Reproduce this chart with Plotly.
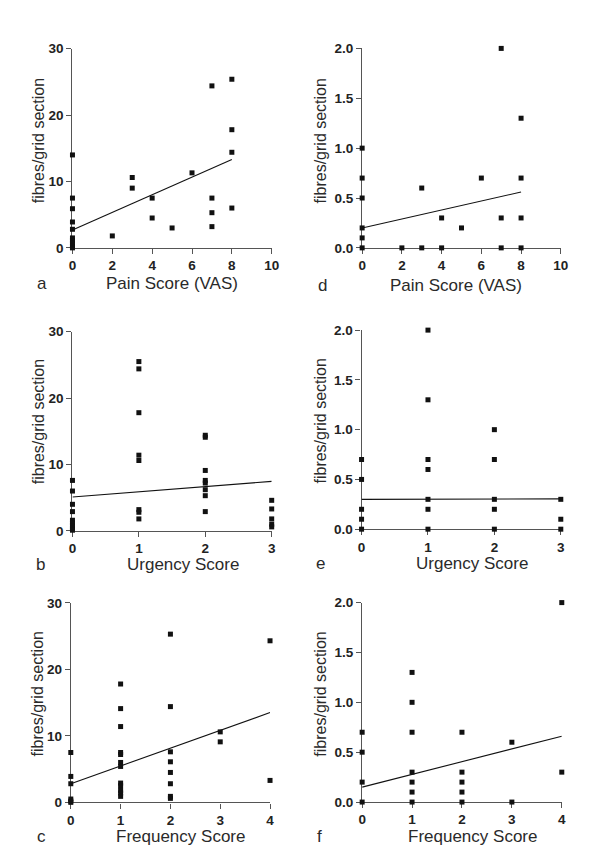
import plotly.graph_objects as go

W, H = 600, 862

# ---------------- data ----------------
# panel a: pain score vs fibres/grid section (scale 0-30)
pain_a_x = [0, 0, 0, 0, 0, 0, 0, 0, 0, 0, 2, 3, 3, 4, 4, 5, 6, 7, 7, 7, 7, 8, 8, 8, 8]
pain_a_y = [14.0, 7.5, 5.9, 3.9, 2.8, 1.5, 1.1, 0.7, 0.3, 0.0, 1.8, 10.6, 9.0, 7.5, 4.5, 3.0, 11.3,
            24.4, 7.5, 5.3, 3.2, 25.4, 17.8, 14.4, 6.0]
fit_a_x = [0, 8]
fit_a_y = [2.7, 13.3]

# panel b: urgency score vs fibres/grid section
urg_b_x = [0] * 9 + [1] * 8 + [2] * 8 + [3] * 5
urg_b_y = [7.6, 6.0, 4.0, 2.9, 1.6, 1.2, 0.8, 0.4, 0.1,
           25.5, 24.4, 17.8, 11.4, 10.6, 3.2, 2.8, 1.8,
           14.4, 14.1, 9.1, 7.6, 7.2, 6.2, 5.3, 2.9,
           4.6, 3.3, 1.8, 1.0, 0.6]
fit_b_x = [0, 3]
fit_b_y = [5.1, 7.45]

# panel c: frequency score vs fibres/grid section
freq_c_x = [0] * 6 + [1] * 12 + [2] * 8 + [3] * 2 + [4] * 2
freq_c_y = [7.5, 3.9, 2.8, 0.5, 0.2, 0.0,
            17.8, 14.1, 11.4, 7.5, 7.2, 6.0, 5.4, 2.9, 2.5, 1.8, 1.4, 0.9,
            25.3, 14.4, 7.6, 6.1, 4.5, 2.8, 0.9, 0.6,
            10.6, 9.1,
            24.3, 3.3]
fit_c_x = [0, 4]
fit_c_y = [2.8, 13.5]

# panel d: pain score vs fibres/grid section (scale 0-2)
pain_d_x = [0, 0, 0, 0, 0, 0, 2, 3, 3, 4, 4, 5, 6, 7, 7, 7, 8, 8, 8, 8]
pain_d_y = [1.0, 0.7, 0.5, 0.2, 0.1, 0.0, 0.0, 0.6, 0.0, 0.3, 0.0, 0.2, 0.7,
            2.0, 0.3, 0.0, 1.3, 0.7, 0.3, 0.0]
fit_d_x = [0, 8]
fit_d_y = [0.20, 0.56]

# panel e: urgency score
urg_e_x = [0] * 5 + [1] * 7 + [2] * 5 + [3] * 3
urg_e_y = [0.7, 0.5, 0.2, 0.1, 0.0,
           2.0, 1.3, 0.7, 0.6, 0.3, 0.2, 0.0,
           1.0, 0.7, 0.3, 0.2, 0.0,
           0.3, 0.1, 0.0]
fit_e_x = [0, 3]
fit_e_y = [0.30, 0.305]

# panel f: frequency score
freq_f_x = [0] * 4 + [1] * 7 + [2] * 5 + [3] * 2 + [4] * 2
freq_f_y = [0.7, 0.5, 0.2, 0.0,
            1.3, 1.0, 0.7, 0.3, 0.2, 0.1, 0.0,
            0.7, 0.3, 0.2, 0.1, 0.0,
            0.6, 0.0,
            2.0, 0.3]
fit_f_x = [0, 4]
fit_f_y = [0.15, 0.66]

# tick values / labels
pain_ticks = [0, 2, 4, 6, 8, 10]
urg_ticks = [0, 1, 2, 3]
freq_ticks = [0, 1, 2, 3, 4]
fib30_ticks = [0, 10, 20, 30]
fib30_labels = ["0", "10", "20", "30"]
fib2_ticks = [0.0, 0.5, 1.0, 1.5, 2.0]
fib2_labels = ["0.0", "0.5", "1.0", "1.5", "2.0"]

y_title = "fibres/grid section"
x_titles = ["Pain Score (VAS)", "Urgency Score", "Frequency Score",
            "Pain Score (VAS)", "Urgency Score", "Frequency Score"]
letters = ["a", "b", "c", "d", "e", "f"]

# ---------------- layout helpers ----------------
def px(x):
    return x / W


def py(y):
    return 1 - y / H


def bold(labels):
    return ["<b>%s</b>" % s for s in labels]


# panel geometry in pixels: (left, right, top, bottom)
panels = [
    (61.7, 265.0, 34.3, 237.0),   # a
    (61.7, 265.0, 322.3, 525.0),  # b
    (60.0, 263.3, 598.3, 801.3),  # c
    (357.3, 560.0, 34.0, 237.0),  # d
    (356.7, 560.0, 320.7, 523.3), # e
    (357.3, 561.0, 598.0, 801.0), # f
]
xtickvals = [pain_ticks, urg_ticks, freq_ticks, pain_ticks, urg_ticks, freq_ticks]
ytickvals = [fib30_ticks] * 3 + [fib2_ticks] * 3
yticktext = [fib30_labels] * 3 + [fib2_labels] * 3

series = [
    (pain_a_x, pain_a_y, fit_a_x, fit_a_y),
    (urg_b_x, urg_b_y, fit_b_x, fit_b_y),
    (freq_c_x, freq_c_y, fit_c_x, fit_c_y),
    (pain_d_x, pain_d_y, fit_d_x, fit_d_y),
    (urg_e_x, urg_e_y, fit_e_x, fit_e_y),
    (freq_f_x, freq_f_y, fit_f_x, fit_f_y),
]

# annotation positions (pixels): x-title center, letter, y-title center
xtitle_pos = [(163, 273), (174, 559), (172, 836), (453, 275), (469, 558), (470, 836)]
letter_pos = [(31, 273), (29, 559), (30, 836), (317, 275), (315, 558), (314, 836)]
ytitle_pos = [(27, 128), (27, 414), (27, 691), (315, 128), (315, 413), (315, 691)]

AXIS_COL = "#555555"
TEXT_COL = "#222222"
FONT = "Liberation Sans, Arial, sans-serif"

fig = go.Figure()
layout = dict(
    width=W, height=H,
    margin=dict(l=0, r=0, t=0, b=0),
    paper_bgcolor="white", plot_bgcolor="white",
    showlegend=False,
    font=dict(family=FONT, color=TEXT_COL),
)
annotations = []

for i, (p, (sx, sy, fx, fy)) in enumerate(zip(panels, series)):
    n = "" if i == 0 else str(i + 1)
    xa, ya = "x" + n, "y" + n
    left, right, top, bottom = p
    xt = xtickvals[i]
    tickfont = dict(size=13.5, color=TEXT_COL, family=FONT, weight="bold")
    layout["xaxis" + n] = dict(
        domain=[px(left), px(right)], range=[xt[0], xt[-1]], anchor=ya,
        tickmode="array", tickvals=xt, ticktext=bold([str(v) for v in xt]),
        showgrid=False, zeroline=False,
        showline=True, linecolor=AXIS_COL, linewidth=1.3,
        ticks="outside", ticklen=5, tickwidth=1.3, tickcolor=AXIS_COL,
        tickfont=tickfont, layer="below traces", fixedrange=True,
    )
    yt = ytickvals[i]
    layout["yaxis" + n] = dict(
        domain=[py(bottom), py(top)], range=[yt[0], yt[-1]], anchor=xa,
        tickmode="array", tickvals=yt, ticktext=bold(yticktext[i]),
        showgrid=False, zeroline=False,
        showline=True, linecolor=AXIS_COL, linewidth=1.3,
        ticks="outside", ticklen=5, tickwidth=1.3, tickcolor=AXIS_COL,
        tickfont=tickfont, layer="below traces", fixedrange=True,
    )
    fig.add_trace(go.Scatter(
        x=fx, y=fy, mode="lines", xaxis=xa, yaxis=ya,
        line=dict(color="#111111", width=1.1), cliponaxis=False, hoverinfo="skip",
    ))
    fig.add_trace(go.Scatter(
        x=sx, y=sy, mode="markers", xaxis=xa, yaxis=ya,
        marker=dict(symbol="square", size=5, color="#111111", line=dict(width=0)),
        cliponaxis=False,
    ))
    tx, ty = xtitle_pos[i]
    annotations.append(dict(
        text=x_titles[i], x=px(tx), y=py(ty), xref="paper", yref="paper",
        xanchor="center", yanchor="middle", showarrow=False,
        font=dict(size=17, color="#2a2a2a"),
    ))
    lx, ly = letter_pos[i]
    annotations.append(dict(
        text=letters[i], x=px(lx), y=py(ly), xref="paper", yref="paper",
        xanchor="center", yanchor="middle", showarrow=False,
        font=dict(size=17, color="#2a2a2a"),
    ))
    yx, yy = ytitle_pos[i]
    annotations.append(dict(
        text=y_title, x=px(yx), y=py(yy), xref="paper", yref="paper",
        xanchor="center", yanchor="middle", showarrow=False, textangle=-90,
        font=dict(size=16, color="#2a2a2a"),
    ))

layout["annotations"] = annotations
fig.update_layout(**layout)
fig.write_html("out.html")
